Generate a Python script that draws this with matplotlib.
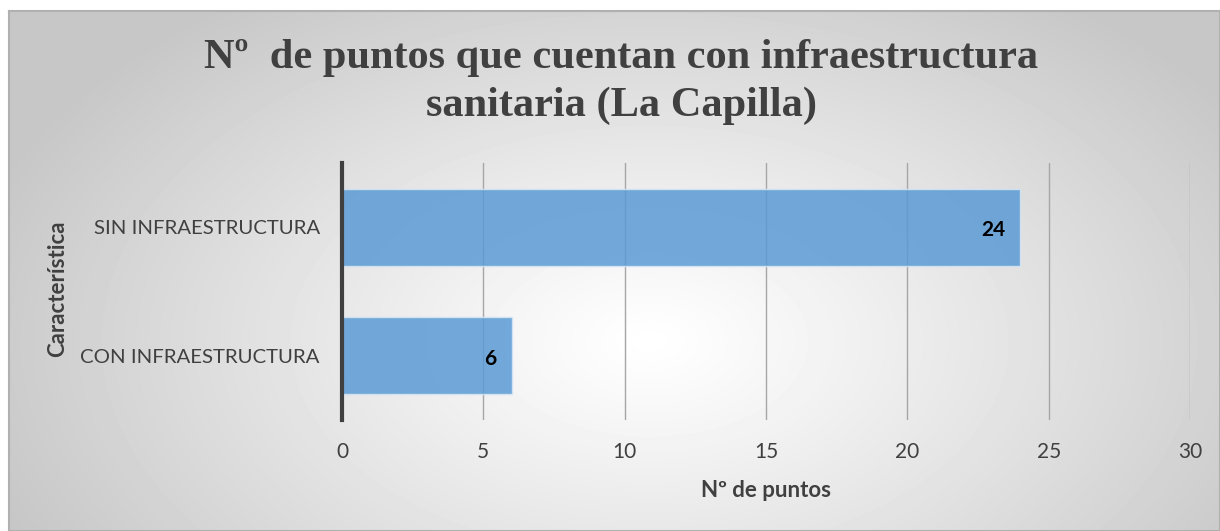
import numpy as np
import matplotlib.pyplot as plt

# datos
categorias = ['CON INFRAESTRUCTURA', 'SIN INFRAESTRUCTURA']
valores = [6, 24]
xticks = [0, 5, 10, 15, 20, 25, 30]

W, H = 1220, 531
fig = plt.figure(figsize=(W / 100, H / 100), dpi=100)

# fondo con degradado radial
bg = fig.add_axes([9 / W, 0, (W - 9) / W, (H - 11) / H], zorder=-1)
yy, xx = np.mgrid[0:520, 0:1211]
r = np.sqrt(((xx - 640) / 700.0) ** 2 + ((yy - 330) / 420.0) ** 2)
r = np.clip(r, 0, 1)
grad = 1.0 - 0.22 * r ** 1.1
bg.imshow(grad, cmap='gray', vmin=0, vmax=1, aspect='auto', interpolation='bilinear')
bg.set_xticks([])
bg.set_yticks([])
for s in bg.spines.values():
    s.set_color('#b0b0b0')
    s.set_linewidth(1.5)

ax = fig.add_axes([342 / W, 1 - 420 / H, (1190 - 342) / W, (420 - 163) / H])
ax.patch.set_alpha(0)

fuente = 'Lato'
ypos = np.arange(len(categorias))
ax.barh(ypos, valores, height=0.6, color='#5b9bd5', alpha=0.85,
        edgecolor='#d6e6f5', linewidth=1, zorder=3)

for y, v in zip(ypos, valores):
    ax.annotate(str(v), (v, y), xytext=(-11, -2), textcoords='offset points',
                ha='right', va='center', fontsize=15, fontweight='bold',
                family=fuente, color='black', zorder=4)

ax.set_xlim(0, 30)
ax.set_ylim(-0.5, 1.5)
ax.set_xticks(xticks)
ax.set_yticks(ypos)
ax.set_yticklabels(categorias)
ax.grid(axis='x', color='#a6a6a6', linewidth=1, zorder=1)
ax.tick_params(length=0, labelsize=15, colors='#404040')
ax.tick_params(axis='x', pad=16)
ax.tick_params(axis='y', pad=16, labelsize=14.7)
for lab in ax.get_xticklabels() + ax.get_yticklabels():
    lab.set_family(fuente)

for k in ['top', 'right', 'bottom']:
    ax.spines[k].set_visible(False)
ax.spines['left'].set_color('#404040')
ax.spines['left'].set_linewidth(3)
ax.spines['left'].set_zorder(5)

ax.set_xlabel('Nº de puntos', fontsize=16, fontweight='bold', family=fuente,
              color='#404040', labelpad=13)
fig.text(58 / W, 1 - 289 / H, 'Característica', rotation=90, ha='center', va='center',
         fontsize=16, fontweight='bold', family=fuente, color='#404040')

fig.text(621 / W, 1 - 82 / H, 'Nº  de puntos que cuentan con infraestructura\nsanitaria (La Capilla)',
         ha='center', va='center', fontsize=30.5, fontweight='bold',
         family='Liberation Serif', color='#404040', linespacing=1.3)

fig.savefig('out.png', dpi=100)
